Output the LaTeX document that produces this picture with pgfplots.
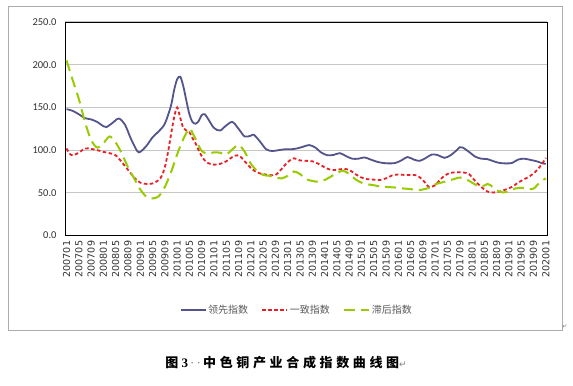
\documentclass[border=0pt]{standalone}
\usepackage{pgfplots}
\usepackage{pgfplotstable}
\pgfplotsset{compat=1.18}
\usepackage{fontspec}
\setmainfont{Liberation Serif}
\newfontfamily\cjk{Noto Sans CJK SC}
\newfontfamily\cjkcap[LetterSpace=28]{Noto Sans CJK SC}
\newfontfamily\carlito{Carlito}
\newfontfamily\djv{DejaVu Sans}

\definecolor{leadc}{RGB}{84,84,140}
\definecolor{coinc}{RGB}{232,32,38}
\definecolor{lagc}{RGB}{153,204,0}

\pgfplotstableread{
x y
0 148
2 146
4 142
6 137.5
8 136
10 133
12 128
13 127
15 132
17 137
19 130
21 113
23 99
24 98
26 105
28 115
30 122
32 131
34 152
35 170
36 183
37 186
38 175
39 158
40 142
41 133
42 131
43 134
44 141
45 142
46 137
48 126
50 123
52 129
54 133
56 125
58 116
60 117
61 118
63 110
65 101
67 99
69 100
71 101
73 101
75 102
77 104
79 106
81 103
83 97
85 94
87 94.5
89 96.5
91 93
93 90
95 90
97 91.5
99 89
101 86.5
103 85
105 84.5
107 85
109 88
111 92
113 89
115 87.5
117 91
119 95
121 94
123 91
125 94
127 100
128 103.5
129 103
131 98
133 92.5
135 90
137 89.5
139 87
141 85
143 84.5
145 85
147 89
149 90
151 88.6
153 87
155 84.5
156 84
}\leadtab

\pgfplotstableread{
x y
0 102
1 96
2 94
4 97
6 102
8 101.5
10 100
12 98
14 96.5
16 94
18 86
20 77
22 68
24 62
26 60.5
28 61
30 65
31 70
32 80
33 97
34 118
35 138
36 150
37 138
38 126
39 123
40 121
41 114
42 108
43 100
44 93
45 88
46 85
48 83
50 84
52 87
54 92
56 94
58 87
60 79
62 74
64 72
66 71
68 71
70 78
72 86
74 90.5
76 88
78 87.5
80 87
82 84
84 80
86 77
88 77
90 78
92 77
94 72
96 68
98 66
100 65.5
102 65
104 67
106 70.5
108 71.5
110 71
112 71
114 70.5
116 65
118 57
120 59
121 63
123 70
125 73.5
127 74
129 74
131 72
133 64
135 57
137 51.5
139 50.5
141 51.5
143 54
145 57
147 62
149 66
151 70
153 76
155 85
156 91
}\coinctab

\pgfplotstableread{
x y
0 205
2 182
4 160
6 133
8 112
10 103
12 108
14 116
16 109
18 96
20 80
22 67
24 54
26 45.5
28 43.5
30 46
32 57
34 74
36 95
38 113
40 125.5
41 120
42 113
44 99
46 96
48 97.5
50 97
52 95
54 101
56 106
58 98
60 84
62 76
64 71
66 70
68 68
70 67
72 70
74 75
76 72
78 66
80 64
82 63
84 65
86 69
88 73
90 76
92 72
94 66
96 62
98 60
100 59
102 57.5
104 57
106 56.5
108 56
110 55
112 54.5
114 53
116 54
118 56
120 60
122 62
124 64
126 66
128 68
130 66
132 62
134 58
136 58.5
137 60.5
138 59
140 53
142 50.5
144 52
146 55
148 56
150 54.5
152 55
154 62
156 67
}\lagtab

\begin{document}
\begin{tikzpicture}[x=1bp,y=1bp]
\useasboundingbox (0,0) rectangle (573,385);
\fill[white] (0,0) rectangle (573,385);
\draw[gray!65, line width=1bp] (8,55) rectangle (562,378);
\begin{axis}[
  at={(65bp,149.4bp)}, anchor=south west,
  scale only axis, width=482.3bp, height=213.6bp,
  xmin=-0.5, xmax=156.5, ymin=0, ymax=250,
  axis line style={black, line width=0.9bp},
  ytick={0,50,100,150,200,250},
  ymajorgrids, major grid style={gray!45, line width=1.1bp},
  major tick length=0pt,
  /pgf/number format/assume math mode=true,
  yticklabel={\pgfmathprintnumber[fixed,fixed zerofill,precision=1]{\tick}},
  yticklabel style={font=\carlito\fontsize{10.5bp}{12bp}\selectfont, text=black!80, anchor=east, xshift=-5bp},
  xtick={0,4,...,156},
  xticklabels={200701,200705,200709,200801,200805,200809,200901,200905,200909,201001,201005,201009,201101,201105,201109,201201,201205,201209,201301,201305,201309,201401,201405,201409,201501,201505,201509,201601,201605,201609,201701,201705,201709,201801,201805,201809,201901,201905,201909,202001},
  xticklabel shift=4bp,
  xticklabel style={rotate=90, anchor=east, font=\djv\fontsize{9.6bp}{11bp}\selectfont, text=black!80, inner sep=1bp},
  legend columns=3,
  legend style={at={(0.48,-0.347)}, anchor=center, draw=none, fill=none,
    font=\cjk\fontsize{10bp}{12bp}\selectfont, text=black!65,
    /tikz/every even column/.append style={column sep=12bp},
    inner sep=0pt, nodes={inner sep=1.5bp}},
  legend image code/.code={\draw[#1] (0bp,0bp) -- (25bp,0bp);},
  clip=false,
]
\addplot[leadc, line width=1.8bp, smooth, tension=0.5] table[x=x,y=y]{\leadtab};
\addlegendentry{领先指数}
\addplot[coinc, line width=1.8bp, dash pattern=on 3.5bp off 2.5bp, smooth, tension=0.5] table[x=x,y=y]{\coinctab};
\addlegendentry{一致指数}
\addplot[lagc, line width=2bp, dash pattern=on 11bp off 6bp, smooth, tension=0.5] table[x=x,y=y]{\lagtab};
\addlegendentry{滞后指数}
\end{axis}
\node[anchor=center, font=\fontsize{13bp}{15bp}\selectfont] at (286,22)
  {{\cjkcap\bfseries 图}\ {\bfseries 3}{\color{gray}\,·\,·\,}{\cjkcap\bfseries 中色铜产业合成指数曲线图}{\djv\color{gray}\fontsize{9bp}{10bp}\selectfont ↵}};
\node[anchor=center, text=gray, font=\djv\fontsize{6bp}{7bp}\selectfont] at (565,58) {↵};
\end{tikzpicture}
\end{document}
